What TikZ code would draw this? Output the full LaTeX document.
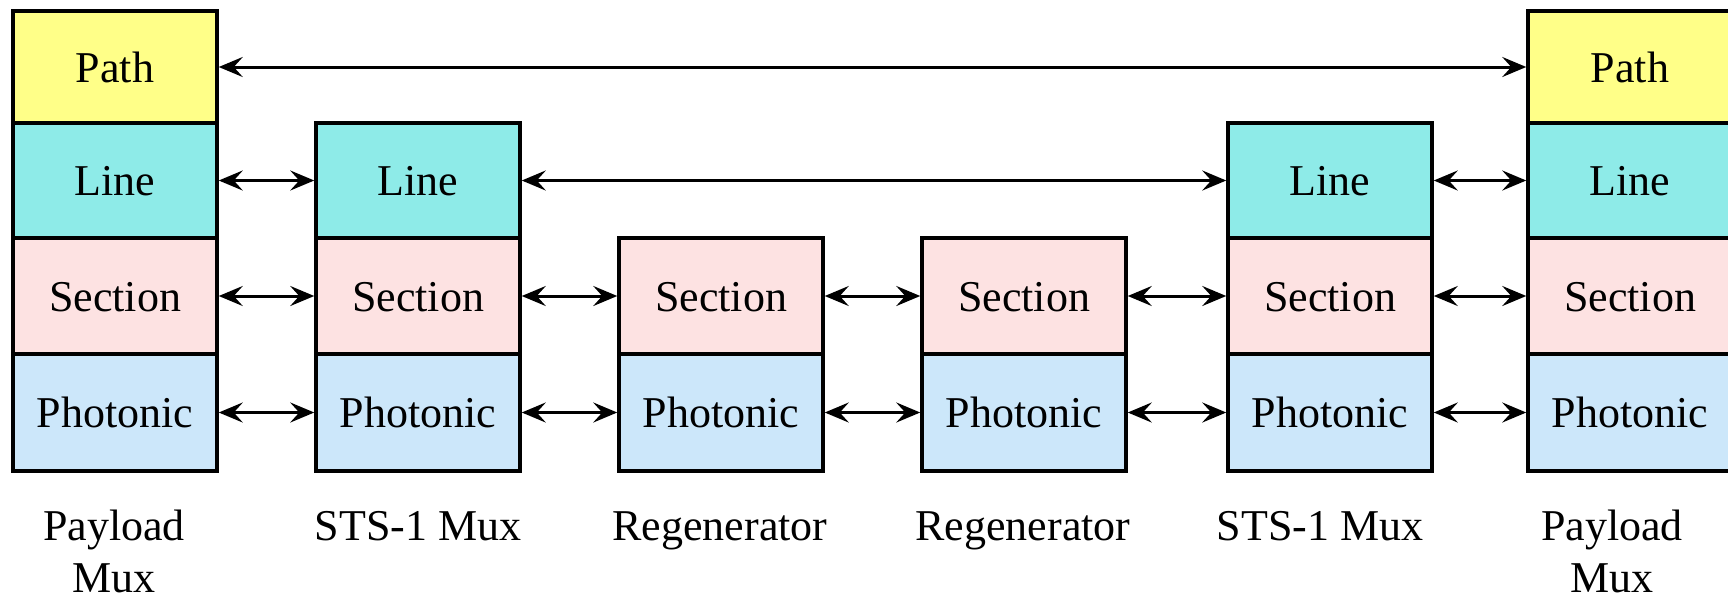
\documentclass[tikz,border=0pt]{standalone}
\usepackage{fontspec}
\setmainfont{Liberation Serif}
\usetikzlibrary{arrows.meta}
\definecolor{pathc}{HTML}{FFFF88}
\definecolor{linec}{HTML}{8EEBE8}
\definecolor{secc}{HTML}{FDE2E2}
\definecolor{phoc}{HTML}{CCE7FA}
\begin{document}
\begin{tikzpicture}[x=1pt,y=-1pt,
  layer/.style={draw, line width=3.5pt, minimum width=204pt, inner sep=0pt,
    text height=30pt, text depth=0pt, font=\fontsize{44}{52}\selectfont},
  pathl/.style={layer, fill=pathc, minimum height=112pt},
  linel/.style={layer, fill=linec, minimum height=115pt},
  secl/.style={layer, fill=secc, minimum height=116pt},
  phol/.style={layer, fill=phoc, minimum height=117pt},
  conn/.style={line width=3pt,
    {Stealth[length=24pt,width=20pt,inset=9pt]}-{Stealth[length=24pt,width=20pt,inset=9pt]}},
  lbl/.style={font=\fontsize{44}{52}\selectfont, align=center, anchor=base, inner sep=0pt}
]
\useasboundingbox (0,0) rectangle (1728,603);
\fill[white] (0,0) rectangle (1728,603);
% box 1
\node[pathl] (p1) at (115,67) {Path};
\node[linel] (l1) at (115,180.5) {Line};
\node[secl]  (s1) at (115,296) {Section};
\node[phol]  (h1) at (115,412.5) {Photonic};
% box 2
\node[linel] (l2) at (418,180.5) {Line};
\node[secl]  (s2) at (418,296) {Section};
\node[phol]  (h2) at (418,412.5) {Photonic};
% box 3
\node[secl]  (s3) at (721,296) {Section};
\node[phol]  (h3) at (721,412.5) {Photonic};
% box 4
\node[secl]  (s4) at (1024,296) {Section};
\node[phol]  (h4) at (1024,412.5) {Photonic};
% box 5
\node[linel] (l5) at (1330,180.5) {Line};
\node[secl]  (s5) at (1330,296) {Section};
\node[phol]  (h5) at (1330,412.5) {Photonic};
% box 6
\node[pathl] (p6) at (1630,67) {Path};
\node[linel] (l6) at (1630,180.5) {Line};
\node[secl]  (s6) at (1630,296) {Section};
\node[phol]  (h6) at (1630,412.5) {Photonic};
% connectors
\draw[conn] (p1.east) -- (p6.west);
\draw[conn] (l1.east) -- (l2.west);
\draw[conn] (l2.east) -- (l5.west);
\draw[conn] (l5.east) -- (l6.west);
\draw[conn] (s1.east) -- (s2.west);
\draw[conn] (s2.east) -- (s3.west);
\draw[conn] (s3.east) -- (s4.west);
\draw[conn] (s4.east) -- (s5.west);
\draw[conn] (s5.east) -- (s6.west);
\draw[conn] (h1.east) -- (h2.west);
\draw[conn] (h2.east) -- (h3.west);
\draw[conn] (h3.east) -- (h4.west);
\draw[conn] (h4.east) -- (h5.west);
\draw[conn] (h5.east) -- (h6.west);
% labels
\node[lbl] (t1) at (114,592) {Payload\\Mux};
\node[lbl] (t2) at (418,540) {STS-1 Mux};
\node[lbl] (t3) at (720,540) {Regenerator};
\node[lbl] (t4) at (1023,540) {Regenerator};
\node[lbl] (t5) at (1320,540) {STS-1 Mux};
\node[lbl] (t6) at (1612,592) {Payload\\Mux};
\end{tikzpicture}
\end{document}
